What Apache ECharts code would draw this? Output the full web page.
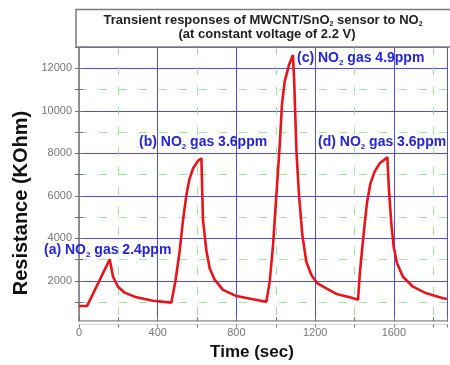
<!DOCTYPE html>
<html><head><meta charset="utf-8">
<script src="https://cdn.jsdelivr.net/npm/echarts@6/dist/echarts.min.js"></script>
<style>html,body{margin:0;padding:0;background:#fff}#c{width:450px;height:365px}</style>
</head><body><div id="c"></div>
<script>
// Time (sec)
const timeSec = [0, 41, 105, 156, 173, 198, 232, 292, 376, 469,
  475, 490, 510, 528, 545, 560, 580, 605, 622,
  630, 647, 664, 690, 732, 800, 884, 952,
  969, 986, 1003, 1020, 1031, 1045, 1067, 1087,
  1093, 1105, 1118, 1135, 1155, 1181, 1210, 1257, 1308, 1376, 1418,
  1427, 1440, 1452, 1463, 1481, 1502, 1528, 1567,
  1575, 1587, 1599, 1616, 1646, 1697, 1765, 1850, 1870];
// Resistance (KOhm)
const resistance = [820, 830, 2040, 3020, 2200, 1730, 1450, 1230, 1070, 980,
  955, 2000, 3300, 4800, 6000, 6750, 7300, 7650, 7770,
  4870, 3450, 2600, 2050, 1580, 1290, 1140, 1025,
  1970, 3690, 6040, 8390, 10270, 11370, 12150, 12620,
  11540, 8080, 6040, 4160, 2900, 2280, 1900, 1650, 1390, 1230, 1120,
  2360, 3610, 4710, 5650, 6590, 7140, 7530, 7810,
  6280, 4710, 3610, 2830, 2200, 1730, 1420, 1185, 1150];
const xTickLabels = [0, 400, 800, 1200, 1600];
const yTickLabels = [2000, 4000, 6000, 8000, 10000, 12000];
const peakTags = ['(a)', '(b)', '(c)', '(d)'];
const peakConc = ['2.4ppm', '3.6ppm', '4.9ppm', '3.6ppm'];
const titleLine1 = ['Transient responses of MWCNT/SnO', ' sensor to NO'];
const titleLine2 = '(at constant voltage of 2.2 V)';
const xName = 'Time (sec)';
const yName = 'Resistance (KOhm)';

const seriesData = timeSec.map((t, i) => [t, resistance[i]]);

const FONT = 'Arial, "Liberation Sans", sans-serif';
const BLUE = '#2424d8';
const axisGray = '#8c8c8c';
const tickStyle = {color: '#777', width: 1};
const majorGrid = {color: '#5050d8', width: 1};
const minorGrid = {color: '#a2e2a2', width: 1, type: [8, 12]};

function peakLabel(i, x, y) {
  return {
    type: 'text', x: x, y: y, z: 50,
    style: {
      text: '{m|' + peakTags[i] + ' NO}{s|2}{m| gas ' + peakConc[i] + '}',
      align: 'left', verticalAlign: 'middle',
      textAlign: 'left', textVerticalAlign: 'middle',
      rich: {
        m: {fontSize: 14, fontWeight: 'bold', fontFamily: FONT, fill: BLUE, color: BLUE, lineHeight: 17},
        s: {fontSize: 8, fontWeight: 'bold', fontFamily: FONT, fill: BLUE, color: BLUE, lineHeight: 8, verticalAlign: 'bottom'}
      }
    }
  };
}

const chart = echarts.init(document.getElementById('c'), null, {renderer: 'canvas'});
chart.setOption({
  animation: false,
  backgroundColor: '#fff',
  grid: {left: 79, right: 3, top: 47, bottom: 41.5, containLabel: false},
  xAxis: [{
    type: 'value', min: 0, max: 1870, interval: 400, position: 'bottom', offset: -2.5,
    axisLine: {show: true, lineStyle: {color: axisGray, width: 1.5}},
    axisTick: {show: true, inside: true, length: 4, lineStyle: tickStyle},
    minorTick: {show: true, splitNumber: 2, length: 4, lineStyle: tickStyle},
    axisLabel: {
      color: '#777', fontSize: 11, fontFamily: FONT, margin: 6, showMaxLabel: false,
      formatter: v => xTickLabels.indexOf(v) >= 0 ? String(v) : ''
    },
    splitLine: {show: true, lineStyle: majorGrid},
    minorSplitLine: {show: true, lineStyle: minorGrid}
  }, {
    type: 'value', min: 0, max: 1870, interval: 400, position: 'top',
    axisLine: {show: true, lineStyle: {color: axisGray, width: 1.5}},
    axisTick: {show: true, inside: true, length: 4, lineStyle: tickStyle},
    minorTick: {show: true, splitNumber: 2, length: 4, lineStyle: tickStyle},
    axisLabel: {show: false},
    splitLine: {show: false}
  }],
  yAxis: [{
    type: 'value', min: 0, max: 13000, interval: 2000, position: 'left',
    axisLine: {show: true, lineStyle: {color: axisGray, width: 1.5}},
    axisTick: {show: true, inside: true, length: 4, lineStyle: tickStyle},
    minorTick: {show: true, splitNumber: 2, length: 4, lineStyle: tickStyle},
    axisLabel: {
      color: '#777', fontSize: 11, fontFamily: FONT, margin: 7, showMinLabel: false, showMaxLabel: false,
      formatter: v => yTickLabels.indexOf(v) >= 0 ? String(v) : ''
    },
    splitLine: {show: true, lineStyle: majorGrid},
    minorSplitLine: {show: true, lineStyle: minorGrid}
  }, {
    type: 'value', min: 0, max: 13000, interval: 2000, position: 'right',
    axisLine: {show: true, lineStyle: {color: axisGray, width: 1.5}},
    axisTick: {show: true, inside: true, length: 4, lineStyle: tickStyle},
    minorTick: {show: true, splitNumber: 2, length: 4, lineStyle: tickStyle},
    axisLabel: {show: false},
    splitLine: {show: false}
  }],
  series: [{
    type: 'line', xAxisIndex: 0, yAxisIndex: 0,
    data: seriesData, showSymbol: false, symbol: 'none', smooth: false,
    lineStyle: {color: '#e8141a', width: 2.6}, z: 5
  }],
  graphic: [
    {type: 'rect', z: 100, shape: {x: 70, y: 321.8, width: 380, height: 2.8}, style: {fill: '#fff'}},
    {type: 'rect', z: 90, shape: {x: 76, y: 9.5, width: 380, height: 37.5},
      style: {fill: '#fff', stroke: '#7a7a7a', lineWidth: 1.5}},
    {type: 'text', x: 263, y: 20, z: 95, style: {
      text: '{t|' + titleLine1[0] + '}{s|2}{t|' + titleLine1[1] + '}{s|2}',
      align: 'center', verticalAlign: 'middle', textAlign: 'center', textVerticalAlign: 'middle',
      rich: {
        t: {fontSize: 13, fontWeight: 'bold', fontFamily: FONT, fill: '#222', color: '#222', lineHeight: 15},
        s: {fontSize: 7, fontWeight: 'bold', fontFamily: FONT, fill: '#222', color: '#222', lineHeight: 7, verticalAlign: 'bottom'}
      }}},
    {type: 'text', x: 267, y: 34, z: 95, style: {
      text: titleLine2, fill: '#222', font: 'bold 13px ' + FONT,
      align: 'center', verticalAlign: 'middle', textAlign: 'center', textVerticalAlign: 'middle'}},
    {type: 'text', x: 252, y: 352, z: 95, style: {
      text: xName, fill: '#111', font: 'bold 17px ' + FONT,
      align: 'center', verticalAlign: 'middle', textAlign: 'center', textVerticalAlign: 'middle'}},
    {type: 'text', x: 21, y: 203, rotation: Math.PI / 2, z: 95, style: {
      text: yName, fill: '#111', font: 'bold 20px ' + FONT,
      align: 'center', verticalAlign: 'middle', textAlign: 'center', textVerticalAlign: 'middle'}},
    peakLabel(0, 44, 250),
    peakLabel(1, 139, 142),
    peakLabel(2, 297, 58),
    peakLabel(3, 318, 142)
  ]
});
</script></body></html>
